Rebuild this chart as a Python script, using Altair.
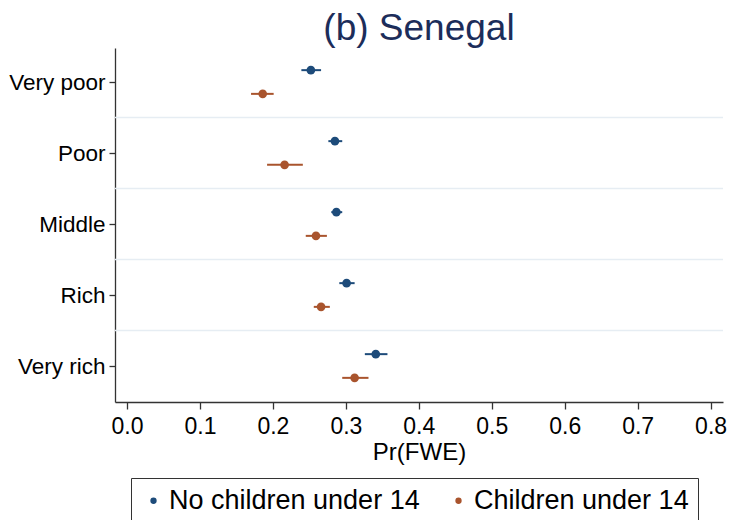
import altair as alt
import pandas as pd

cats = ["Very poor", "Poor", "Middle", "Rich", "Very rich"]
groups = ["No children under 14", "Children under 14"]

no_est = [0.252, 0.285, 0.287, 0.301, 0.341]
no_lo = [0.239, 0.276, 0.280, 0.291, 0.326]
no_hi = [0.266, 0.295, 0.295, 0.312, 0.357]

ch_est = [0.186, 0.216, 0.259, 0.266, 0.312]
ch_lo = [0.170, 0.192, 0.245, 0.256, 0.295]
ch_hi = [0.201, 0.241, 0.274, 0.278, 0.331]

x_ticks = [0.0, 0.1, 0.2, 0.3, 0.4, 0.5, 0.6, 0.7, 0.8]
separators = [1.5, 2.5, 3.5, 4.5]

rows = []
for i, c in enumerate(cats):
    rows.append(dict(cat=c, idx=i + 1, group=groups[0], est=no_est[i], lo=no_lo[i], hi=no_hi[i]))
    rows.append(dict(cat=c, idx=i + 1, group=groups[1], est=ch_est[i], lo=ch_lo[i], hi=ch_hi[i]))
df = pd.DataFrame(rows)
grid_df = pd.DataFrame({"pos": separators})

FONT = "Liberation Sans"
colors = ["#1d4b7a", "#a9542d"]

yscale = alt.Scale(domain=[0.521, 5.507], reverse=True, nice=False, zero=False)
xscale = alt.Scale(domain=[-0.0165, 0.817], nice=False, zero=False)

label_expr = "[" + ",".join("'" + c + "'" for c in cats) + "][datum.value - 1]"
yaxis = alt.Axis(values=[1, 2, 3, 4, 5], labelExpr=label_expr, title=None, grid=False,
                 labelFont=FONT, labelFontSize=22.5, labelColor="#000", labelPadding=4,
                 tickSize=6, tickColor="#333", domainColor="#333", domainWidth=1.3,
                 tickWidth=1.3)
xaxis = alt.Axis(values=x_ticks, format=".1f", title="Pr(FWE)", grid=False,
                 labelFont=FONT, labelFontSize=23, labelColor="#000", labelPadding=6,
                 tickSize=7, tickColor="#333", domainColor="#333", domainWidth=1.3,
                 tickWidth=1.3, titleFont=FONT, titleFontSize=24, titleFontWeight="normal",
                 titleColor="#000", titlePadding=2)

legend = alt.Legend(orient="none", legendX=16, legendY=430, direction="horizontal",
                    title=None, labelFont=FONT, labelFontSize=27, labelColor="#000",
                    labelLimit=500, symbolType="circle", symbolSize=40, symbolStrokeWidth=0,
                    strokeColor="#333", padding=9, labelOffset=2, columnPadding=25)

color = alt.Color("group:N", scale=alt.Scale(domain=groups, range=colors), legend=legend)

base = alt.Chart(df).transform_calculate(
    ypos="datum.idx + (datum.group === 'No children under 14' ? -0.167 : 0.167)"
)

grid = alt.Chart(grid_df).mark_rule(color="#e6edf3", strokeWidth=1.5).encode(
    y=alt.Y("pos:Q", scale=yscale, axis=yaxis)
)

ci = base.mark_rule(strokeWidth=2).encode(
    x=alt.X("lo:Q", scale=xscale, axis=xaxis),
    x2="hi:Q",
    y=alt.Y("ypos:Q", scale=yscale, axis=yaxis),
    color=color,
)

pts = base.mark_circle(size=75, opacity=1).encode(
    x=alt.X("est:Q", scale=xscale, axis=xaxis),
    y=alt.Y("ypos:Q", scale=yscale, axis=yaxis),
    color=color,
)

chart = alt.layer(grid, ci, pts).properties(
    width=608,
    height=354,
    title=alt.TitleParams("(b) Senegal", font=FONT, fontSize=37, fontWeight="normal",
                          color="#1c2d5a", offset=0),
    autosize=alt.AutoSizeParams(type="none"),
    padding={"left": 107, "top": 40, "right": 5, "bottom": 118},
    background="white",
).configure_view(stroke=None)

chart.save("out.html", embed_options={"renderer": "svg", "actions": False})
